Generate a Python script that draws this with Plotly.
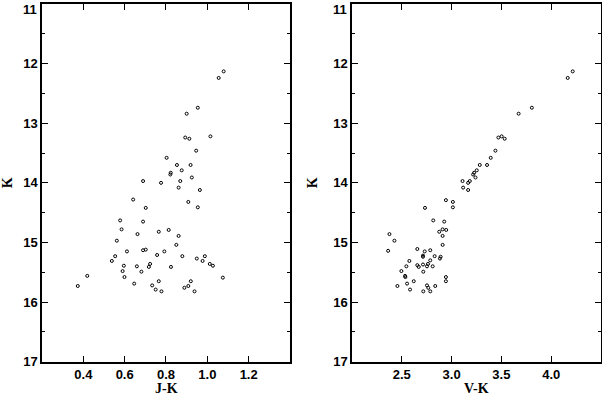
import plotly.graph_objects as go

# left panel: J-K colour vs K magnitude
jk = [1.079, 1.055, 0.954, 0.900, 1.015, 0.893, 0.913, 0.946, 0.803, 0.853,
      0.919, 0.876, 0.823, 0.821, 0.925, 0.869, 0.689, 0.776, 0.861, 0.964,
      0.641, 0.702, 0.908, 0.954, 0.578, 0.689, 0.585, 0.662, 0.765, 0.813,
      0.861, 0.562, 0.850, 0.611, 0.689, 0.702, 0.792, 0.757, 0.554, 0.879,
      0.988, 0.949, 0.538, 0.977, 0.596, 0.659, 0.723, 0.717, 0.824, 1.012,
      1.027, 0.590, 0.681, 0.419, 0.599, 1.075, 0.765, 0.920, 0.646, 0.373,
      0.733, 0.908, 0.889, 0.750, 0.778, 0.938]
k_jk = [12.13, 12.24, 12.74, 12.84, 13.22, 13.24, 13.26, 13.46, 13.58, 13.70,
        13.70, 13.79, 13.83, 13.86, 13.91, 13.97, 13.97, 14.00, 14.08, 14.12,
        14.28, 14.42, 14.32, 14.41, 14.63, 14.65, 14.78, 14.86, 14.82, 14.79,
        14.89, 14.97, 15.04, 15.15, 15.13, 15.12, 15.15, 15.21, 15.23, 15.23,
        15.23, 15.27, 15.31, 15.31, 15.39, 15.40, 15.36, 15.41, 15.41, 15.36,
        15.39, 15.48, 15.49, 15.56, 15.58, 15.59, 15.65, 15.65, 15.69, 15.73,
        15.72, 15.73, 15.76, 15.79, 15.82, 15.82]

# right panel: V-K colour vs K magnitude
vk = [4.216, 4.166, 3.806, 3.673, 3.470, 3.503, 3.533, 3.440, 3.393, 3.356,
      3.283, 3.253, 3.226, 3.216, 3.240, 3.183, 3.110, 3.166, 3.116, 3.166,
      2.943, 3.013, 3.013, 2.733, 2.816, 2.926, 2.910, 2.946, 2.876, 2.376,
      2.910, 2.426, 2.910, 2.656, 2.786, 2.363, 2.730, 2.713, 2.713, 2.830,
      2.890, 2.883, 2.576, 2.786, 2.656, 2.670, 2.713, 2.763, 2.753, 2.810,
      2.546, 2.496, 2.716, 2.533, 2.536, 2.943, 2.943, 2.620, 2.553, 2.456,
      2.753, 2.836, 2.766, 2.583, 2.716, 2.786]
k_vk = [12.13, 12.24, 12.74, 12.84, 13.24, 13.22, 13.26, 13.46, 13.58, 13.70,
        13.70, 13.79, 13.83, 13.86, 13.91, 13.97, 13.97, 14.00, 14.08, 14.12,
        14.29, 14.32, 14.41, 14.42, 14.63, 14.65, 14.78, 14.79, 14.82, 14.86,
        14.89, 14.97, 15.04, 15.11, 15.13, 15.14, 15.15, 15.22, 15.24, 15.23,
        15.24, 15.27, 15.31, 15.30, 15.38, 15.41, 15.37, 15.36, 15.40, 15.40,
        15.40, 15.48, 15.49, 15.56, 15.58, 15.58, 15.65, 15.65, 15.69, 15.73,
        15.72, 15.73, 15.76, 15.79, 15.82, 15.82]

k_ticks = [11, 12, 13, 14, 15, 16, 17]
# the top label (11) is drawn as an annotation, nudged down so it is not clipped
k_text = [""] + [str(t) for t in k_ticks[1:]]

marker = dict(symbol="circle-open", size=3, color="black", line=dict(width=1))

fig = go.Figure()
fig.add_trace(go.Scatter(x=jk, y=k_jk, mode="markers", marker=marker,
                         xaxis="x", yaxis="y", showlegend=False))
fig.add_trace(go.Scatter(x=vk, y=k_vk, mode="markers", marker=marker,
                         xaxis="x2", yaxis="y2", showlegend=False))

tickfont = dict(family="Liberation Sans", size=13, color="black", weight="bold")
titlefont = dict(family="Liberation Serif", size=14, color="black", weight="bold")

common = dict(showgrid=False, zeroline=False, showline=True, linecolor="black",
              linewidth=1.5, mirror="ticks", ticks="inside", ticklen=6,
              tickcolor="black", tickfont=tickfont, ticklabeloverflow="allow",
              automargin=False)
minor = dict(tickvals=[11.5, 12.5, 13.5, 14.5, 15.5, 16.5], ticks="inside",
             ticklen=3, tickcolor="black", showgrid=False)

fig.update_layout(
    width=602, height=396,
    margin=dict(l=0, r=0, t=0, b=0, autoexpand=False),
    plot_bgcolor="white", paper_bgcolor="white",
    xaxis=dict(common, domain=[0.0698, 0.4817], range=[0.2, 1.4],
               tickvals=[0.4, 0.6, 0.8, 1.0, 1.2], ticktext=["0.4", "0.6", "0.8", "1.0", "1.2"],
               anchor="y"),
    yaxis=dict(common, domain=[0.0866, 0.9899], range=[17.0, 11.0],
               tickvals=k_ticks, ticktext=k_text, minor=minor,
               title=dict(text="K", font=titlefont, standoff=12), anchor="x"),
    xaxis2=dict(common, domain=[0.5847, 0.9983], range=[2.0, 4.5],
                tickvals=[2.5, 3.0, 3.5, 4.0], ticktext=["2.5", "3.0", "3.5", "4.0"],
                anchor="y2"),
    yaxis2=dict(common, domain=[0.0866, 0.9899], range=[17.0, 11.0],
                tickvals=k_ticks, ticktext=k_text, minor=minor,
                title=dict(text="K", font=titlefont, standoff=12), anchor="x2"),
)

for xref, label in [("x domain", "J-K"), ("x2 domain", "V-K")]:
    fig.add_annotation(text=label, xref=xref, x=0.5, yref="paper", y=8 / 396,
                       yanchor="middle", showarrow=False, font=titlefont)

for xref, yref in [("x domain", "y"), ("x2 domain", "y2")]:
    fig.add_annotation(text=str(k_ticks[0]), xref=xref, x=0, xanchor="right", xshift=-4,
                       yref=yref, y=k_ticks[0], yanchor="top", yshift=3,
                       showarrow=False, font=tickfont, borderpad=0)

# drop the default 8px page margin so the figure fills the window
fig.write_html("out.html", config={"displayModeBar": False},
               post_script="document.body.style.margin='0px';")
